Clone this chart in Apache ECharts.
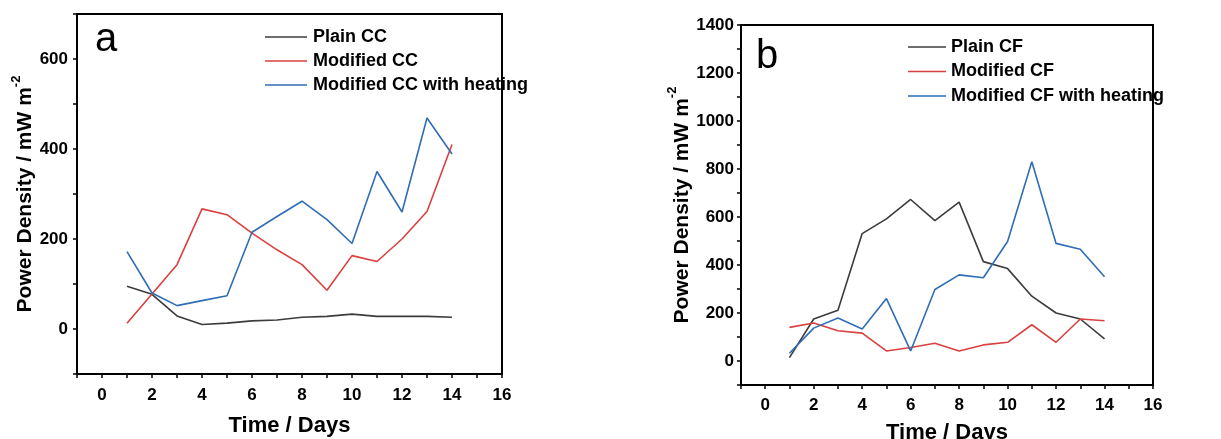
<!DOCTYPE html>
<html>
<head>
<meta charset="utf-8">
<script src="https://cdn.jsdelivr.net/npm/echarts@6/dist/echarts.min.js"></script>
<style>
html,body{margin:0;padding:0;background:#fff;}
#c{width:1221px;height:439px;}
</style>
</head>
<body>
<div id="c"></div>
<script>
const days = [1,2,3,4,5,6,7,8,9,10,11,12,13,14];
// Panel a (carbon cloth)
const plainCC = [95,77,29,10,13,18,20,26,28,33,28,28,28,26];
const modCC = [13,78,143,267,254,213,176,143,86,163,150,200,261,410];
const modCCHeat = [172,80,52,63,74,215,250,284,243,190,350,260,469,389];
// Panel b (carbon felt)
const plainCF = [14,175,211,531,592,673,585,662,414,385,270,200,175,92];
const modCF = [140,158,126,116,42,56,74,42,67,78,151,78,175,168];
const modCFHeat = [32,137,179,133,260,42,298,359,347,498,830,490,466,351];
const xTicks = [0,2,4,6,8,10,12,14,16];
const yTicksA = [0,200,400,600];
const yTicksB = [0,200,400,600,800,1000,1200,1400];
const namesA = ['Plain CC','Modified CC','Modified CC with heating'];
const namesB = ['Plain CF','Modified CF','Modified CF with heating'];
const colors = ['#3c3c3c','#d9403f','#2f6db5'];

const FONT = '"Liberation Sans", Arial, sans-serif';
const pair = (arr) => arr.map((v,i)=>[days[i], v]);

function xAxis(gi, labelMargin, nameGap){
  return {
    type:'value', gridIndex:gi, min:-1, max:16, interval:1,
    splitLine:{show:false},
    axisLine:{show:true, onZero:false, lineStyle:{color:'#000', width:2}},
    axisTick:{show:true, inside:false, length:4, lineStyle:{color:'#000', width:1.5}},
    axisLabel:{margin:labelMargin, color:'#000', fontFamily:FONT, fontWeight:'bold', fontSize:17,
      formatter:(v)=> xTicks.includes(v) ? String(v) : ''},
    name:'Time / Days', nameLocation:'middle', nameGap:nameGap,
    nameTextStyle:{color:'#000', fontFamily:FONT, fontWeight:'bold', fontSize:22}
  };
}
function yAxis(gi, min, max, ticks, labelMargin, nameGap){
  return {
    type:'value', gridIndex:gi, min:min, max:max, interval:100,
    splitLine:{show:false},
    axisLine:{show:true, onZero:false, lineStyle:{color:'#000', width:2}},
    axisTick:{show:true, inside:false, length:4, lineStyle:{color:'#000', width:1.5}},
    axisLabel:{margin:labelMargin, color:'#000', fontFamily:FONT, fontWeight:'bold', fontSize:17,
      formatter:(v)=> ticks.includes(v) ? String(v) : ''},
    name:'{m|Power Density / mW m}{s|-2}', nameLocation:'middle', nameGap:nameGap, nameRotate:90,
    nameTextStyle:{color:'#000', fontFamily:FONT, fontWeight:'bold', fontSize:21,
      rich:{
        m:{fontFamily:FONT, fontWeight:'bold', fontSize:21, color:'#000', lineHeight:26, verticalAlign:'bottom'},
        s:{fontFamily:FONT, fontWeight:'bold', fontSize:13, color:'#000', lineHeight:26, verticalAlign:'top'}
      }}
  };
}
function lineSeries(name, data, color, xi){
  return {type:'line', name:name, data:pair(data), xAxisIndex:xi, yAxisIndex:xi,
    symbol:'none', lineStyle:{color:color, width:1.6}, itemStyle:{color:color}, z:3, animation:false};
}

const chart = echarts.init(document.getElementById('c'), null, {renderer:'canvas'});
chart.setOption({
  backgroundColor:'#fff',
  animation:false,
  title:[
    {text:'a', left:95, top:20, padding:0, textStyle:{fontFamily:FONT, fontWeight:'normal', fontSize:40, color:'#000'}},
    {text:'b', left:756, top:37, padding:0, textStyle:{fontFamily:FONT, fontWeight:'normal', fontSize:40, color:'#000'}}
  ],
  grid:[
    {left:77, top:14, width:425, height:360, show:true, borderColor:'#000', borderWidth:2, backgroundColor:'transparent', outerBoundsMode:'none', containLabel:false},
    {left:741, top:25, width:412, height:360, show:true, borderColor:'#000', borderWidth:2, backgroundColor:'transparent', outerBoundsMode:'none', containLabel:false}
  ],
  legend:[
    {data:namesA, orient:'vertical', left:265, top:28, padding:0, icon:'rect', itemWidth:42, itemHeight:1.6, itemGap:6,
      textStyle:{fontFamily:FONT, fontWeight:'bold', fontSize:18, color:'#000', padding:[0,0,0,1]}},
    {data:namesB, orient:'vertical', left:908, top:38, padding:0, icon:'rect', itemWidth:38, itemHeight:1.6, itemGap:6.5,
      textStyle:{fontFamily:FONT, fontWeight:'bold', fontSize:18, color:'#000'}}
  ],
  xAxis:[xAxis(0, 13, 41), xAxis(1, 12, 37)],
  yAxis:[yAxis(0, -100, 700, yTicksA, 9, 41), yAxis(1, -100, 1400, yTicksB, 7, 46)],
  series:[
    lineSeries(namesA[0], plainCC, colors[0], 0),
    lineSeries(namesA[1], modCC, colors[1], 0),
    lineSeries(namesA[2], modCCHeat, colors[2], 0),
    lineSeries(namesB[0], plainCF, colors[0], 1),
    lineSeries(namesB[1], modCF, colors[1], 1),
    lineSeries(namesB[2], modCFHeat, colors[2], 1)
  ]
});
</script>
</body>
</html>
